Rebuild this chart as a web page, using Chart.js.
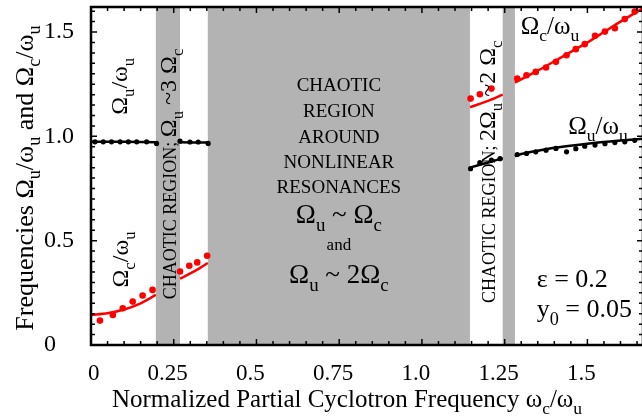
<!DOCTYPE html>
<html>
<head>
<meta charset="utf-8">
<script src="https://cdn.jsdelivr.net/npm/chart.js@4"></script>
<style>
	html, body { margin: 0; padding: 0; background: #fff; overflow: hidden; }
	#wrap { width: 642px; height: 418px; overflow: hidden; }
</style>
</head>
<body>
<div id="wrap"><canvas id="freqChart" width="646" height="418"></canvas></div>
<script>
// theory curves (solid) and simulation points (dots)
const omegaCLineAx = [0, 0.05, 0.1, 0.15, 0.196];
const omegaCLineAy = [0.144, 0.152, 0.17, 0.2, 0.24];
const omegaCLineBx = [0.269, 0.3, 0.33, 0.353];
const omegaCLineBy = [0.318, 0.343, 0.37, 0.393];
const omegaCLineCx = [1.145, 1.2, 1.244];
const omegaCLineCy = [1.14, 1.17, 1.2];
const omegaCLineDx = [1.281, 1.35, 1.4, 1.45, 1.5, 1.55, 1.6, 1.68];
const omegaCLineDy = [1.258, 1.315, 1.36, 1.405, 1.45, 1.5, 1.55, 1.625];

const omegaCDotsX = [0.027, 0.066, 0.096, 0.126, 0.156, 0.186,
	0.269, 0.297, 0.321, 0.351,
	1.147, 1.175, 1.21, 1.288, 1.316, 1.344, 1.375, 1.405, 1.437, 1.465, 1.492, 1.523, 1.553, 1.583, 1.613, 1.643];
const omegaCDotsY = [0.117, 0.144, 0.176, 0.208, 0.237, 0.264,
	0.352, 0.38, 0.396, 0.428,
	1.181, 1.202, 1.229, 1.277, 1.293, 1.309, 1.33, 1.357, 1.389, 1.418, 1.442, 1.482, 1.502, 1.518, 1.562, 1.598];

const omegaULineAx = [0, 0.1, 0.196];
const omegaULineAy = [0.974, 0.974, 0.972];
const omegaULineBx = [0.269, 0.353];
const omegaULineBy = [0.972, 0.97];
const omegaULineCx = [1.145, 1.2, 1.244];
const omegaULineCy = [0.85, 0.875, 0.895];
const omegaULineDx = [1.281, 1.3, 1.4, 1.5, 1.6, 1.68];
const omegaULineDy = [0.905, 0.915, 0.945, 0.965, 0.98, 0.99];

const omegaUDotsX = [0.012, 0.037, 0.062, 0.088, 0.113, 0.138, 0.168, 0.198,
	0.269, 0.299, 0.324, 0.354,
	1.147, 1.175, 1.21, 1.236, 1.288, 1.316, 1.344, 1.375, 1.405, 1.437, 1.465, 1.492, 1.523, 1.553, 1.583, 1.613, 1.643];
const omegaUDotsY = [0.974, 0.974, 0.974, 0.974, 0.974, 0.974, 0.974, 0.966,
	0.977, 0.973, 0.973, 0.966,
	0.845, 0.874, 0.886, 0.893, 0.913, 0.918, 0.926, 0.934, 0.942, 0.926, 0.941, 0.953, 0.958, 0.965, 0.97, 0.974, 0.981];

// shaded chaotic intervals of omega_c/omega_u
const chaoticBands = [[0.196, 0.269], [0.353, 1.145], [1.244, 1.281]];

const xTickValues = [0, 0.25, 0.5, 0.75, 1.0, 1.25, 1.5];
const yTickValues = [0, 0.5, 1.0, 1.5];

const SERIF = "'Liberation Serif', 'Times New Roman', serif";

function zip(xs, ys) {
	return xs.map((x, i) => ({ x: x, y: ys[i] }));
}

function lineSet(xs, ys, color) {
	return {
		data: zip(xs, ys),
		showLine: true,
		borderColor: color,
		borderWidth: 2.5,
		pointRadius: 0,
		tension: 0.3,
	};
}

function dotSet(xs, ys, color, r) {
	return {
		data: zip(xs, ys),
		showLine: false,
		backgroundColor: color,
		borderWidth: 0,
		pointRadius: r,
	};
}

// text with "_x" meaning a one-character subscript
function runPieces(text) {
	const out = [];
	for (let i = 0; i < text.length; i++) {
		if (text[i] === "_" && i + 1 < text.length) {
			out.push({ t: text[i + 1], sub: true });
			i++;
		} else {
			out.push({ t: text[i], sub: false });
		}
	}
	return out;
}

function richWidth(ctx, runs) {
	let w = 0;
	runs.forEach((run) => {
		runPieces(run.t).forEach((p) => {
			ctx.font = (p.sub ? run.s * 0.7 : run.s) + "px " + SERIF;
			w += ctx.measureText(p.t).width;
		});
	});
	return w;
}

function drawRich(ctx, runs, x, y, align) {
	const w = richWidth(ctx, runs);
	let cx = align === "left" ? x : x - w / 2;
	ctx.textBaseline = "alphabetic";
	ctx.textAlign = "left";
	ctx.fillStyle = "#000";
	runs.forEach((run) => {
		runPieces(run.t).forEach((p) => {
			const size = p.sub ? run.s * 0.7 : run.s;
			ctx.font = size + "px " + SERIF;
			ctx.fillText(p.t, cx, y + (p.sub ? run.s * 0.28 : 0));
			cx += ctx.measureText(p.t).width;
		});
	});
}

// labels placed in data coordinates
const notes = [
	{ x: 0.085, y: 1.24, rot: true, runs: [{ t: "Ω_u/ω_u", s: 24 }] },
	{ x: 0.088, y: 0.41, rot: true, runs: [{ t: "Ω_c/ω_u", s: 24 }] },
	{ x: 0.233, y: 0.82, rot: true, runs: [{ t: "CHAOTIC REGION; ", s: 18 }, { t: "Ω_u ~3 Ω_c", s: 24 }] },
	{ x: 1.196, y: 0.83, rot: true, runs: [{ t: "CHAOTIC REGION; ", s: 18 }, { t: "2Ω_u ~2 Ω_c", s: 24 }] },
	{ x: 1.387, y: 1.53, runs: [{ t: "Ω_c/ω_u", s: 25 }] },
	{ x: 1.532, y: 1.05, runs: [{ t: "Ω_u/ω_u", s: 25 }] },
	{ x: 1.347, y: 0.32, align: "left", runs: [{ t: "ε = 0.2", s: 26 }] },
	{ x: 1.347, y: 0.175, align: "left", runs: [{ t: "y_0 = 0.05", s: 26 }] },
];

// stacked caption inside the wide band
const bandCaption = [
	{ t: "CHAOTIC", s: 19 },
	{ t: "REGION", s: 19 },
	{ t: "AROUND", s: 19 },
	{ t: "NONLINEAR", s: 19 },
	{ t: "RESONANCES", s: 19 },
	{ t: "Ω_u ~ Ω_c", s: 27 },
	{ t: "and", s: 17 },
	{ t: "Ω_u ~ 2Ω_c", s: 27 },
];
const bandCaptionX = 0.749;
const bandCaptionTopY = 1.25;
const bandCaptionGaps = [0, 26, 26, 25, 25, 28, 30, 30];

const decorations = {
	id: "decorations",
	beforeDatasetsDraw(chart) {
		const { ctx, chartArea, scales } = chart;
		ctx.save();
		ctx.fillStyle = "#b3b3b3";
		chaoticBands.forEach(([a, b]) => {
			const x1 = scales.x.getPixelForValue(a);
			const x2 = scales.x.getPixelForValue(b);
			ctx.fillRect(x1, chartArea.top, x2 - x1, chartArea.bottom - chartArea.top);
		});
		ctx.restore();
	},
	afterDatasetsDraw(chart) {
		const { ctx, scales } = chart;
		ctx.save();
		notes.forEach((n) => {
			const px = scales.x.getPixelForValue(n.x);
			const py = scales.y.getPixelForValue(n.y);
			const base = n.runs[n.runs.length - 1].s * 0.34;
			if (n.rot) {
				ctx.save();
				ctx.translate(px, py);
				ctx.rotate(-Math.PI / 2);
				drawRich(ctx, n.runs, 0, base, "center");
				ctx.restore();
			} else {
				drawRich(ctx, n.runs, px, py + base, n.align || "center");
			}
		});
		const cx = scales.x.getPixelForValue(bandCaptionX);
		let cy = scales.y.getPixelForValue(bandCaptionTopY);
		bandCaption.forEach((line, i) => {
			cy += bandCaptionGaps[i];
			drawRich(ctx, [line], cx, cy + line.s * 0.34, "center");
		});
		ctx.restore();
	},
	afterDraw(chart) {
		const { ctx, chartArea, scales } = chart;
		const { left, right, top, bottom } = chartArea;
		ctx.save();
		ctx.strokeStyle = "#000";
		// inward ticks every 0.05
		ctx.lineWidth = 1.5;
		ctx.beginPath();
		for (let i = 0; i * 0.05 <= scales.x.max + 1e-9; i++) {
			const px = scales.x.getPixelForValue(i * 0.05);
			const len = i % 5 === 0 ? 6 : 4;
			ctx.moveTo(px, bottom); ctx.lineTo(px, bottom - len);
			ctx.moveTo(px, top); ctx.lineTo(px, top + len);
		}
		for (let i = 0; i * 0.05 <= scales.y.max + 1e-9; i++) {
			const py = scales.y.getPixelForValue(i * 0.05);
			const len = i % 10 === 0 ? 6 : 4;
			ctx.moveTo(left, py); ctx.lineTo(left + len, py);
			ctx.moveTo(right, py); ctx.lineTo(right - len, py);
		}
		ctx.stroke();
		ctx.lineWidth = 2.5;
		ctx.strokeRect(left, top, right - left, bottom - top);

		// axis titles
		drawRich(ctx, [{ t: "Normalized Partial Cyclotron Frequency ω_c/ω_u", s: 25 }], 347, 407, "center");
		ctx.translate(24, 178);
		ctx.rotate(-Math.PI / 2);
		drawRich(ctx, [{ t: "Frequencies Ω_u/ω_u and Ω_c/ω_u", s: 26 }], 0, 9, "center");
		ctx.restore();
	},
};

const RED = "#ff0000";
const BLACK = "#000000";
const NBSP = "\u00a0";

new Chart(document.getElementById("freqChart"), {
	type: "scatter",
	data: {
		datasets: [
			lineSet(omegaCLineAx, omegaCLineAy, RED),
			lineSet(omegaCLineBx, omegaCLineBy, RED),
			lineSet(omegaCLineCx, omegaCLineCy, RED),
			lineSet(omegaCLineDx, omegaCLineDy, RED),
			lineSet(omegaULineAx, omegaULineAy, BLACK),
			lineSet(omegaULineBx, omegaULineBy, BLACK),
			lineSet(omegaULineCx, omegaULineCy, BLACK),
			lineSet(omegaULineDx, omegaULineDy, BLACK),
			dotSet(omegaCDotsX, omegaCDotsY, RED, 3.3),
			dotSet(omegaUDotsX, omegaUDotsY, BLACK, 2.6),
		],
	},
	options: {
		responsive: false,
		animation: false,
		layout: { autoPadding: false, padding: { top: 7, right: 3, left: 0, bottom: 0 } },
		plugins: { legend: { display: false }, tooltip: { enabled: false } },
		scales: {
			x: {
				type: "linear",
				min: 0,
				max: 1.668,
				grid: { display: false },
				border: { display: false },
				afterFit: (s) => { s.height = 73; s.paddingLeft = 0; s.paddingRight = 0; },
				afterBuildTicks: (s) => { s.ticks = xTickValues.map((v) => ({ value: v })); },
				ticks: {
					color: "#000",
					padding: 7,
					maxRotation: 0,
					labelOffset: -6,
					font: { family: SERIF, size: 23 },
					callback: (v) => (v === 0 ? NBSP + NBSP + NBSP + "0" : v === 1 ? "1.0" : String(v)),
				},
			},
			y: {
				type: "linear",
				min: 0,
				max: 1.62,
				grid: { display: false },
				border: { display: false },
				afterFit: (s) => { s.width = 91; s.paddingTop = 0; s.paddingBottom = 0; },
				afterBuildTicks: (s) => { s.ticks = yTickValues.map((v) => ({ value: v })); },
				ticks: {
					color: "#000",
					padding: 9,
					font: { family: SERIF, size: 24 },
					// decimal-point alignment for the bare zero
					callback: (v) => (v === 0 ? "0" + NBSP + NBSP + NBSP : v.toFixed(1)),
				},
			},
		},
	},
	plugins: [decorations],
});
</script>
</body>
</html>
